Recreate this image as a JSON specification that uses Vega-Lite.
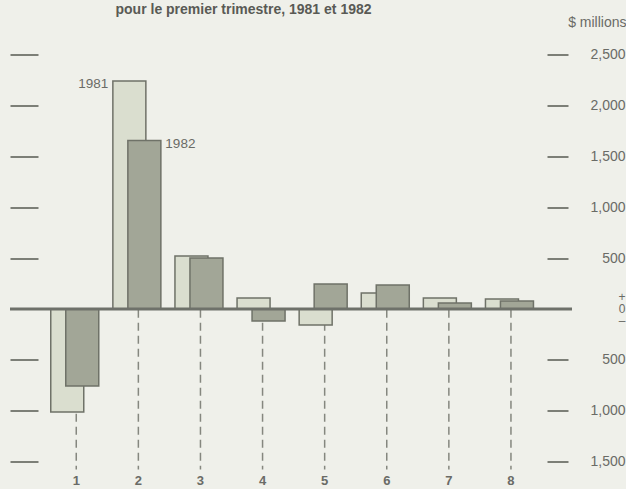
{
  "$schema": "https://vega.github.io/schema/vega-lite/v6.json",
  "width": 562,
  "height": 447,
  "autosize": {"type": "none"},
  "padding": {"left": 10, "top": 24.5, "right": 54, "bottom": 17.5},
  "background": "#eff0ea",
  "title": {
    "text": "pour le premier trimestre, 1981 et 1982",
    "anchor": "start",
    "dx": 107,
    "offset": -2,
    "fontSize": 14,
    "font": "Liberation Sans",
    "fontWeight": "bold",
    "color": "#595a55"
  },
  "config": {"view": {"stroke": null}, "font": "Liberation Sans"},
  "datasets": {
    "cats": [
      {"cat": "1"}, {"cat": "2"}, {"cat": "3"}, {"cat": "4"},
      {"cat": "5"}, {"cat": "6"}, {"cat": "7"}, {"cat": "8"}
    ],
    "y1981": [
      {"cat": "1", "value": -1014},
      {"cat": "2", "value": 2244},
      {"cat": "3", "value": 522},
      {"cat": "4", "value": 108},
      {"cat": "5", "value": -157},
      {"cat": "6", "value": 157},
      {"cat": "7", "value": 108},
      {"cat": "8", "value": 98}
    ],
    "y1982": [
      {"cat": "1", "value": -758},
      {"cat": "2", "value": 1657},
      {"cat": "3", "value": 502},
      {"cat": "4", "value": -118},
      {"cat": "5", "value": 246},
      {"cat": "6", "value": 236},
      {"cat": "7", "value": 59},
      {"cat": "8", "value": 79}
    ],
    "lab1981": [{"cat": "2", "value": 2244, "text": "1981"}],
    "lab1982": [{"cat": "2", "value": 1657, "text": "1982"}],
    "zero": [{"v": 0}]
  },
  "layer": [
    {
      "data": {"name": "cats"},
      "mark": {"type": "rule", "strokeDash": [8, 5], "color": "#85877f", "strokeWidth": 1.5},
      "encoding": {
        "x": {
          "field": "cat",
          "type": "nominal",
          "scale": {"paddingInner": 0, "paddingOuter": 0.525, "align": 0.54},
          "axis": {
            "orient": "bottom",
            "title": null,
            "domain": false,
            "ticks": false,
            "labelAngle": 0,
            "labelPadding": 3,
            "labelFontSize": 13,
            "labelFontWeight": "bold",
            "labelColor": "#6a6b66"
          }
        },
        "y": {
          "datum": -8,
          "type": "quantitative",
          "scale": {"domain": [-1600, 2800], "nice": false, "zero": false},
          "axis": {
            "orient": "left",
            "title": null,
            "labels": false,
            "domain": false,
            "grid": false,
            "tickSize": -28,
            "tickColor": "#7c7f77",
            "tickWidth": 2,
            "values": [-1500, -1000, -500, 500, 1000, 1500, 2000, 2500]
          }
        },
        "y2": {"datum": -1580}
      }
    },
    {
      "data": {"name": "y1981"},
      "mark": {"type": "bar", "width": 33, "xOffset": -9, "fill": "#dadecf", "stroke": "#6f7268", "strokeWidth": 1.5},
      "encoding": {
        "x": {"field": "cat", "type": "nominal"},
        "y": {"field": "value", "type": "quantitative", "axis": null}
      }
    },
    {
      "data": {"name": "y1982"},
      "mark": {"type": "bar", "width": 33, "xOffset": 6, "fill": "#a2a697", "stroke": "#6f7268", "strokeWidth": 1.5},
      "encoding": {
        "x": {"field": "cat", "type": "nominal"},
        "y": {
          "field": "value",
          "type": "quantitative",
          "axis": {
            "orient": "right",
            "offset": -4,
            "tickSize": -21,
            "tickColor": "#7c7f77",
            "tickWidth": 2,
            "domain": false,
            "grid": false,
            "values": [-1500, -1000, -500, 0, 500, 1000, 1500, 2000, 2500],
            "labelExpr": "datum.value == 0 ? ['+', '0', '\u2013'] : format(abs(datum.value), ',')",
            "labelAlign": "right",
            "labelPadding": 78,
            "labelOffset": {"condition": {"test": "datum.value == 0", "value": -12}, "value": 0},
            "labelFontSize": {"condition": {"test": "datum.value == 0", "value": 12}, "value": 14},
            "labelLineHeight": 12,
            "labelColor": "#6a6b66",
            "title": "$ millions",
            "titleAngle": 0,
            "titleAlign": "right",
            "titleBaseline": "middle",
            "titleX": 58,
            "titleY": -2.5,
            "titleFontSize": 14,
            "titleFontWeight": "normal",
            "titleColor": "#6a6b66"
          }
        }
      }
    },
    {
      "data": {"name": "zero"},
      "mark": {"type": "rule", "color": "#6e716a", "strokeWidth": 3},
      "encoding": {
        "y": {"field": "v", "type": "quantitative", "axis": null}
      }
    },
    {
      "data": {"name": "lab1981"},
      "mark": {"type": "text", "align": "right", "baseline": "middle", "xOffset": -30, "dy": 3, "fontSize": 13.5, "color": "#6a6b66"},
      "encoding": {
        "x": {"field": "cat", "type": "nominal"},
        "y": {"field": "value", "type": "quantitative", "axis": null},
        "text": {"field": "text"}
      }
    },
    {
      "data": {"name": "lab1982"},
      "mark": {"type": "text", "align": "left", "baseline": "middle", "xOffset": 27, "dy": 3, "fontSize": 13.5, "color": "#6a6b66"},
      "encoding": {
        "x": {"field": "cat", "type": "nominal"},
        "y": {"field": "value", "type": "quantitative", "axis": null},
        "text": {"field": "text"}
      }
    }
  ],
  "resolve": {"axis": {"y": "independent"}}
}
